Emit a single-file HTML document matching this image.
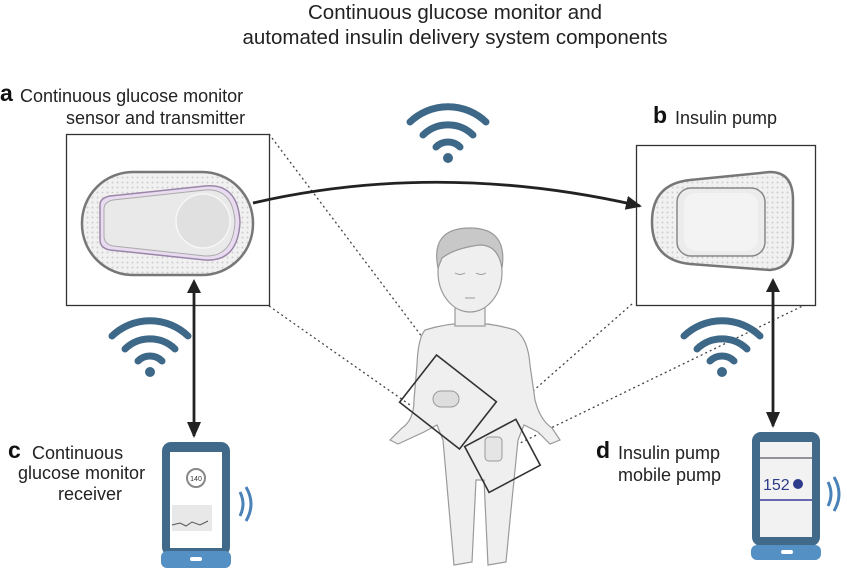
<!DOCTYPE html>
<html><head><style>
body{margin:0;background:#fff;}
svg{display:block;font-family:"Liberation Sans",sans-serif;}
</style></head><body>
<svg width="847" height="572" viewBox="0 0 847 572" xmlns="http://www.w3.org/2000/svg">
<defs>
<pattern id="dots" width="5" height="5" patternUnits="userSpaceOnUse"><rect width="5" height="5" fill="#f1f1f1"/><circle cx="2.5" cy="2.5" r="1" fill="#cfcfcf"/></pattern>
<marker id="ah2" markerWidth="16" markerHeight="14" refX="14" refY="7" orient="auto" markerUnits="userSpaceOnUse"><path d="M0,0 L16,7 L0,14z" fill="#222"/></marker>
<g id="wifi" fill="none" stroke="#3e6888" stroke-width="7" stroke-linecap="round">
<path d="M-38,-14 A55,55 0 0 1 38,-14"/><path d="M-25,-1 A36,36 0 0 1 25,-1"/><path d="M-12,11 A17,17 0 0 1 12,11"/>
<circle cx="0" cy="22" r="5" fill="#3e6888" stroke="none"/></g>
</defs>
<text x="455" y="19" font-size="20.5" text-anchor="middle" fill="#222">Continuous glucose monitor and</text>
<text x="455" y="44" font-size="20.5" text-anchor="middle" fill="#222">automated insulin delivery system components</text>
<text x="0" y="101" font-size="23" font-weight="bold" fill="#111">a</text>
<text x="20" y="102" font-size="18" fill="#222">Continuous glucose monitor</text>
<text x="66" y="124" font-size="18" fill="#222">sensor and transmitter</text>
<text x="653" y="123" font-size="23" font-weight="bold" fill="#111">b</text>
<text x="675" y="124" font-size="18" fill="#222">Insulin pump</text>
<text x="8" y="458" font-size="23" font-weight="bold" fill="#111">c</text>
<text x="32" y="459" font-size="18" fill="#222">Continuous</text>
<text x="18" y="479" font-size="18" fill="#222">glucose monitor</text>
<text x="58" y="500" font-size="18" fill="#222">receiver</text>
<text x="596" y="458" font-size="23" font-weight="bold" fill="#111">d</text>
<text x="618" y="459" font-size="18" fill="#222">Insulin pump</text>
<text x="618" y="481" font-size="18" fill="#222">mobile pump</text>
<g stroke="#444" stroke-width="1.3" stroke-dasharray="2,3" fill="none">
<line x1="269" y1="134" x2="441" y2="362"/>
<line x1="269" y1="306" x2="410" y2="405"/>
<line x1="632" y1="304" x2="500" y2="420"/>
<line x1="815" y1="300" x2="518" y2="444"/>
</g>
<rect x="66.5" y="134.5" width="203" height="171" fill="#fff" stroke="#333" stroke-width="1.3"/>
<rect x="636.5" y="145.5" width="179" height="160" fill="#fff" stroke="#333" stroke-width="1.3"/>
<rect x="82" y="172" width="171" height="103" rx="51" fill="url(#dots)" stroke="#777" stroke-width="2.5"/>
<path d="M100,205 Q100,198 110,196 L205,186 Q238,183 240,222 Q238,262 205,260 L110,250 Q100,248 100,240z" fill="#eadcf0" stroke="#9a86a8" stroke-width="1.5"/>
<path d="M104,209 Q104,202 113,200 L205,190 Q233,188 235,222 Q233,257 205,256 L113,246 Q104,244 104,236z" fill="#e9e9e9" stroke="#aaa" stroke-width="1"/>
<circle cx="203" cy="221" r="27" fill="#e0e0e0" stroke="#f6f6f6" stroke-width="1.5"/>
<path d="M690,180 L770,172 Q793,172 793,200 L793,240 Q793,268 770,270 L690,264 Q652,260 652,222 Q652,184 690,180z" fill="url(#dots)" stroke="#777" stroke-width="2.5"/>
<rect x="677" y="188" width="88" height="68" rx="14" fill="#ececec" stroke="#888" stroke-width="1.5"/>
<rect x="684" y="193" width="74" height="58" rx="12" fill="#f3f3f3"/>
<path d="M253,203 Q440,160 640,206" fill="none" stroke="#222" stroke-width="2.8" marker-end="url(#ah2)"/>
<line x1="194" y1="290" x2="194" y2="436" stroke="#222" stroke-width="2.8" marker-end="url(#ah2)"/>
<line x1="773" y1="290" x2="773" y2="426" stroke="#222" stroke-width="2.8" marker-end="url(#ah2)"/>
<path d="M187,293 L194,279 L201,293z" fill="#222"/><path d="M766,292 L773,278 L780,292z" fill="#222"/>
<use href="#wifi" x="448" y="136"/>
<use href="#wifi" x="150" y="350"/>
<use href="#wifi" x="722" y="350"/>
<g fill="#efefef" stroke="#9a9a9a" stroke-width="1.2">
<path d="M425,330 Q470,316 515,330 Q528,338 530,365 L535,400 Q540,420 552,428 L560,440 L550,444 L538,432 L524,425 L518,440 L510,520 L506,562 L488,565 L484,480 L476,480 L472,562 L454,565 L450,520 L443,440 L437,425 L424,432 L398,444 L390,440 L402,428 Q414,420 414,400 L417,365 Q418,338 425,330z"/>
<rect x="455" y="300" width="30" height="26"/>
<ellipse cx="470" cy="272" rx="32" ry="40"/>
<path d="M438,268 Q430,228 470,228 Q508,228 502,268 Q498,245 480,245 Q455,248 442,258z" fill="#c8c8c8" stroke="#999"/>
</g>
<path d="M455,273 q5,3 10,0 M476,273 q5,3 10,0 M465,298 h10" stroke="#999" fill="none"/>
<g transform="rotate(38 448 402)"><rect x="410" y="372" width="76" height="60" fill="none" stroke="#333" stroke-width="1.6"/></g>
<rect x="433" y="391" width="26" height="16" rx="8" fill="#ddd" stroke="#999"/>
<g transform="rotate(-28 502 455)"><rect x="473" y="430" width="58" height="52" fill="none" stroke="#333" stroke-width="1.6"/></g>
<rect x="485" y="437" width="17" height="24" rx="4" fill="#e5e5e5" stroke="#999"/>
<rect x="162" y="442" width="68" height="114" rx="9" fill="#41698a"/>
<rect x="161" y="551" width="70" height="17" rx="6" fill="#5590c4"/>
<rect x="190" y="557" width="12" height="4" rx="2" fill="#fff"/>
<rect x="170" y="452" width="52" height="96" fill="#fff"/>
<circle cx="196" cy="478" r="9" fill="#fff" stroke="#888" stroke-width="2"/>
<text x="196" y="481" font-size="7" text-anchor="middle" fill="#333">140</text>
<rect x="172" y="505" width="40" height="26" fill="#e8e8e8"/>
<path d="M172,525 l8,-2 l6,3 l6,-4 l8,3 l8,-4" stroke="#555" fill="none"/>
<path d="M240,492 q6,12 0,24 M246,487 q10,17 0,34" stroke="#4a82b8" stroke-width="3" fill="none"/>
<rect x="752" y="432" width="68" height="114" rx="9" fill="#41698a"/>
<rect x="751" y="545" width="70" height="15" rx="6" fill="#5590c4"/>
<rect x="781" y="550" width="12" height="4" rx="2" fill="#fff"/>
<rect x="760" y="442" width="52" height="95" fill="#f2f2f2"/>
<line x1="760" y1="458" x2="812" y2="458" stroke="#334" stroke-width="1"/>
<line x1="760" y1="500" x2="812" y2="500" stroke="#3b3b9a" stroke-width="1.5"/>
<text x="763" y="490" font-size="16" fill="#2e3a8a">152</text>
<circle cx="798" cy="484" r="5" fill="#2e3a8a"/>
<path d="M828,482 q6,12 0,24 M834,477 q10,17 0,34" stroke="#4a82b8" stroke-width="3" fill="none"/>
</svg>
</body></html>
